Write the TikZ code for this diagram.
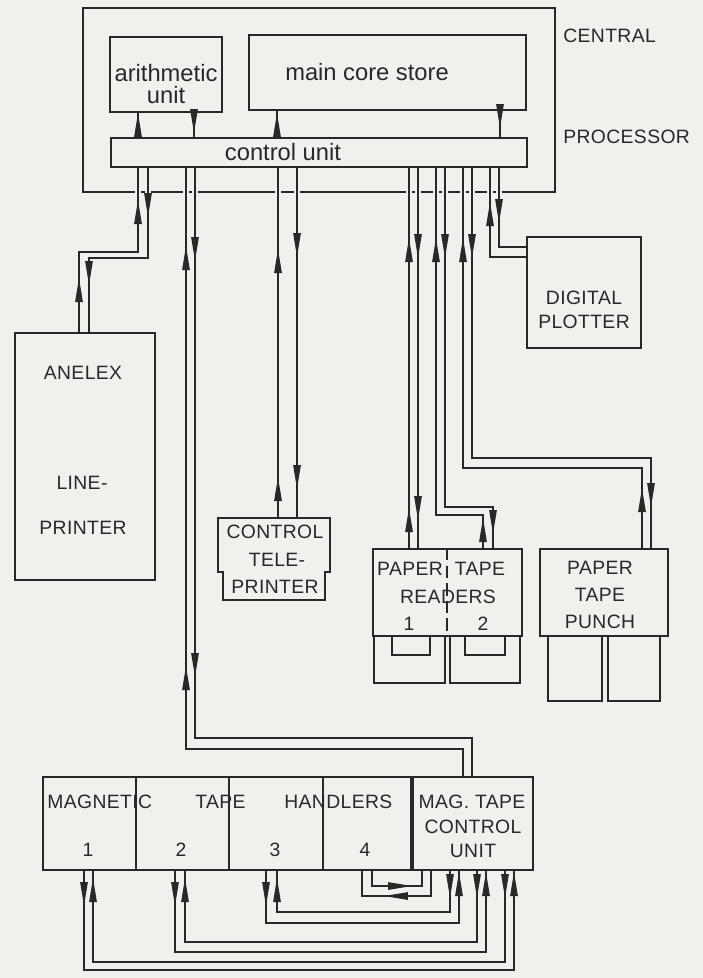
\documentclass[tikz,border=0pt]{standalone}
\usepackage{fontspec}
\setmainfont{Liberation Sans}
\newfontfamily\capsfont[LetterSpace=2]{Liberation Sans}
\usetikzlibrary{arrows.meta,fit}
\definecolor{paper}{RGB}{240,240,237}
\definecolor{ink}{RGB}{40,40,40}
\tikzset{
  outline/.style={draw=ink, line width=1pt},
  box/.style={outline, inner sep=0pt},
  wire/.style={draw=ink, line width=0.8pt},
  head/.style={ink, line width=0.6pt, -{Triangle[length=0.48cm,width=0.15cm]}},
  caps/.style={text=ink, inner sep=0pt, font=\capsfont\fontsize{11}{13}\selectfont},
  lower/.style={text=ink, inner sep=0pt, align=center, font=\fontsize{13.5}{13}\selectfont},
}
\begin{document}
\begin{tikzpicture}[x=0.02cm, y=-0.02cm]
	\fill[paper] (0,0) rectangle (703,978);
	% central processor
	\node[box, fit={(83,8) (555,192)}] (cp) {};
	\node[box, fit={(110,37) (222,112)}] (au) {};
	\node[box, fit={(249,35) (526,110)}] (ms) {};
	\node[box, fit={(111,138) (527,167)}] (cu) {};
	\node[lower] (au-t) at (166,84) {arithmetic\\unit};
	\node[lower] (ms-t) at (367,72) {main core store};
	\node[lower] (cu-t) at (283,152) {control unit};
	\node[caps, anchor=west] (cp-t1) at (563,36) {CENTRAL};
	\node[caps, anchor=west] (cp-t2) at (563,137) {PROCESSOR};
	% peripherals
	\node[box, fit={(15,333) (155,580)}] (lp) {};
	\node[caps] (lp-t1) at (83,373) {ANELEX};
	\node[caps] (lp-t2) at (82,483) {LINE-};
	\node[caps] (lp-t3) at (83,528) {PRINTER};
	\node[inner sep=0pt, fit={(218,518) (330,600)}] (tp) {};
	\draw[outline] (218,518) -- (330,518) -- (330,572) -- (325,572) -- (325,600)
		-- (223,600) -- (223,572) -- (218,572) -- cycle;
	\node[caps] (tp-t1) at (275,532) {CONTROL};
	\node[caps] (tp-t2) at (277,560) {TELE-};
	\node[caps] (tp-t3) at (275,587) {PRINTER};
	\node[box, fit={(527,237) (641,348)}] (dp) {};
	\node[caps] (dp-t1) at (584,298) {DIGITAL};
	\node[caps] (dp-t2) at (584,322) {PLOTTER};
	\node[box, fit={(373,549) (522,636)}] (rd) {};
	\draw[outline, dash pattern=on 7pt off 3pt] (rd.north -| 447,0) -- (rd.south -| 447,0);
	\draw[outline] (374,636) rectangle (445,683);
	\draw[outline] (450,636) rectangle (520,683);
	\draw[outline] (392,636) |- (430,655) -- (430,636);
	\draw[outline] (465,636) |- (505,655) -- (505,636);
	\node[caps] (rd-t1) at (410,569) {PAPER};
	\node[caps] (rd-t2) at (480,569) {TAPE};
	\node[caps] (rd-t3) at (448,597) {READERS};
	\node[caps] (rd-t4) at (409,624) {1};
	\node[caps] (rd-t5) at (483,624) {2};
	\node[box, fit={(540,549) (668,636)}] (pp) {};
	\draw[outline] (548,636) rectangle (602,701);
	\draw[outline] (608,636) rectangle (660,701);
	\node[caps] (pp-t1) at (600,568) {PAPER};
	\node[caps] (pp-t2) at (600,595) {TAPE};
	\node[caps] (pp-t3) at (600,622) {PUNCH};
	% magnetic tape handlers
	\node[box, fit={(43,777) (136,870)}] (u1) {};
	\node[box, fit={(136,777) (229,870)}] (u2) {};
	\node[box, fit={(229,777) (323,870)}] (u3) {};
	\node[box, fit={(323,777) (413,870)}] (u4) {};
	\node[box, fit={(413,777) (533,870)}] (mtcu) {};
	\draw[ink, line width=2pt] (mtcu.north west) -- (mtcu.south west);
	\node[caps, anchor=west] (mt-t1) at (47,802) {MAGNETIC};
	\node[caps, anchor=west] (mt-t2) at (195,802) {TAPE};
	\node[caps, anchor=west] (mt-t3) at (284,802) {HANDLERS};
	\node[caps] (mt-t4) at (88,850) {1};
	\node[caps] (mt-t5) at (181,850) {2};
	\node[caps] (mt-t6) at (275,850) {3};
	\node[caps] (mt-t7) at (365,850) {4};
	\node[caps] (mtcu-t1) at (472,802) {MAG. TAPE};
	\node[caps] (mtcu-t2) at (473,827) {CONTROL};
	\node[caps] (mtcu-t3) at (473,851) {UNIT};
	% wires
	\foreach \x in {138,194} \draw[wire] (cu.north -| \x,0) -- (au.south -| \x,0);
	\foreach \x in {277,500} \draw[wire] (cu.north -| \x,0) -- (ms.south -| \x,0);
	\foreach \x in {138,148,186,195,278,297,409,418,436,445,463,472,490,499}
		\draw[paper, line width=2pt] (\x-3,192) -- (\x+3,192);
	\foreach \a/\b/\y/\n in {138/79/252/lp, 148/89/258/lp, 186/463/749/mtcu, 195/472/738/mtcu,
			278/278/300/tp, 297/297/300/tp, 409/409/300/rd, 418/418/300/rd,
			436/483/515/rd, 445/493/507/rd, 463/642/468/pp, 472/651/458/pp}
		\draw[wire] (cu.south -| \a,0) |- (\b,\y) -- (\n.north -| \b,0);
	\draw[wire] (cu.south -| 490,0) |- (dp.west |- 0,257);
	\draw[wire] (cu.south -| 499,0) |- (dp.west |- 0,247);
	\foreach \n/\a/\b/\y in {u1/84/514/970, u1/93/505/962, u2/175/486/952, u2/185/477/942,
			u3/266/459/923, u3/277/450/912, u4/362/431/896, u4/372/422/886}
		\draw[wire] (\n.south -| \a,0) |- (\b,\y) -- (mtcu.south -| \b,0);
	% arrow heads
	\foreach \x/\a/\b in {138/132/113, 194/114/133, 277/132/113, 500/111/128,
			138/230/200, 148/197/217, 79/298/278, 89/265/285,
			186/268/246, 195/240/261, 186/687/666, 195/655/677,
			278/268/249, 297/237/257, 278/498/477, 297/469/489,
			409/268/238, 418/237/258, 436/268/238, 445/237/258,
			463/268/238, 472/237/258, 490/230/202, 499/202/223,
			409/529/508, 418/498/520, 483/540/518, 493/513/534,
			642/515/488, 651/485/507,
			84/878/906, 93/906/878, 175/878/906, 185/906/878,
			266/878/906, 277/906/878, 450/872/898, 459/898/872,
			477/872/898, 486/898/872, 505/872/898, 514/898/872}
		\draw[head] (\x,\a) -- (\x,\b);
	\draw[head] (393,886) -- (412,886);
	\draw[head] (404,896) -- (384,896);
\end{tikzpicture}
\end{document}
